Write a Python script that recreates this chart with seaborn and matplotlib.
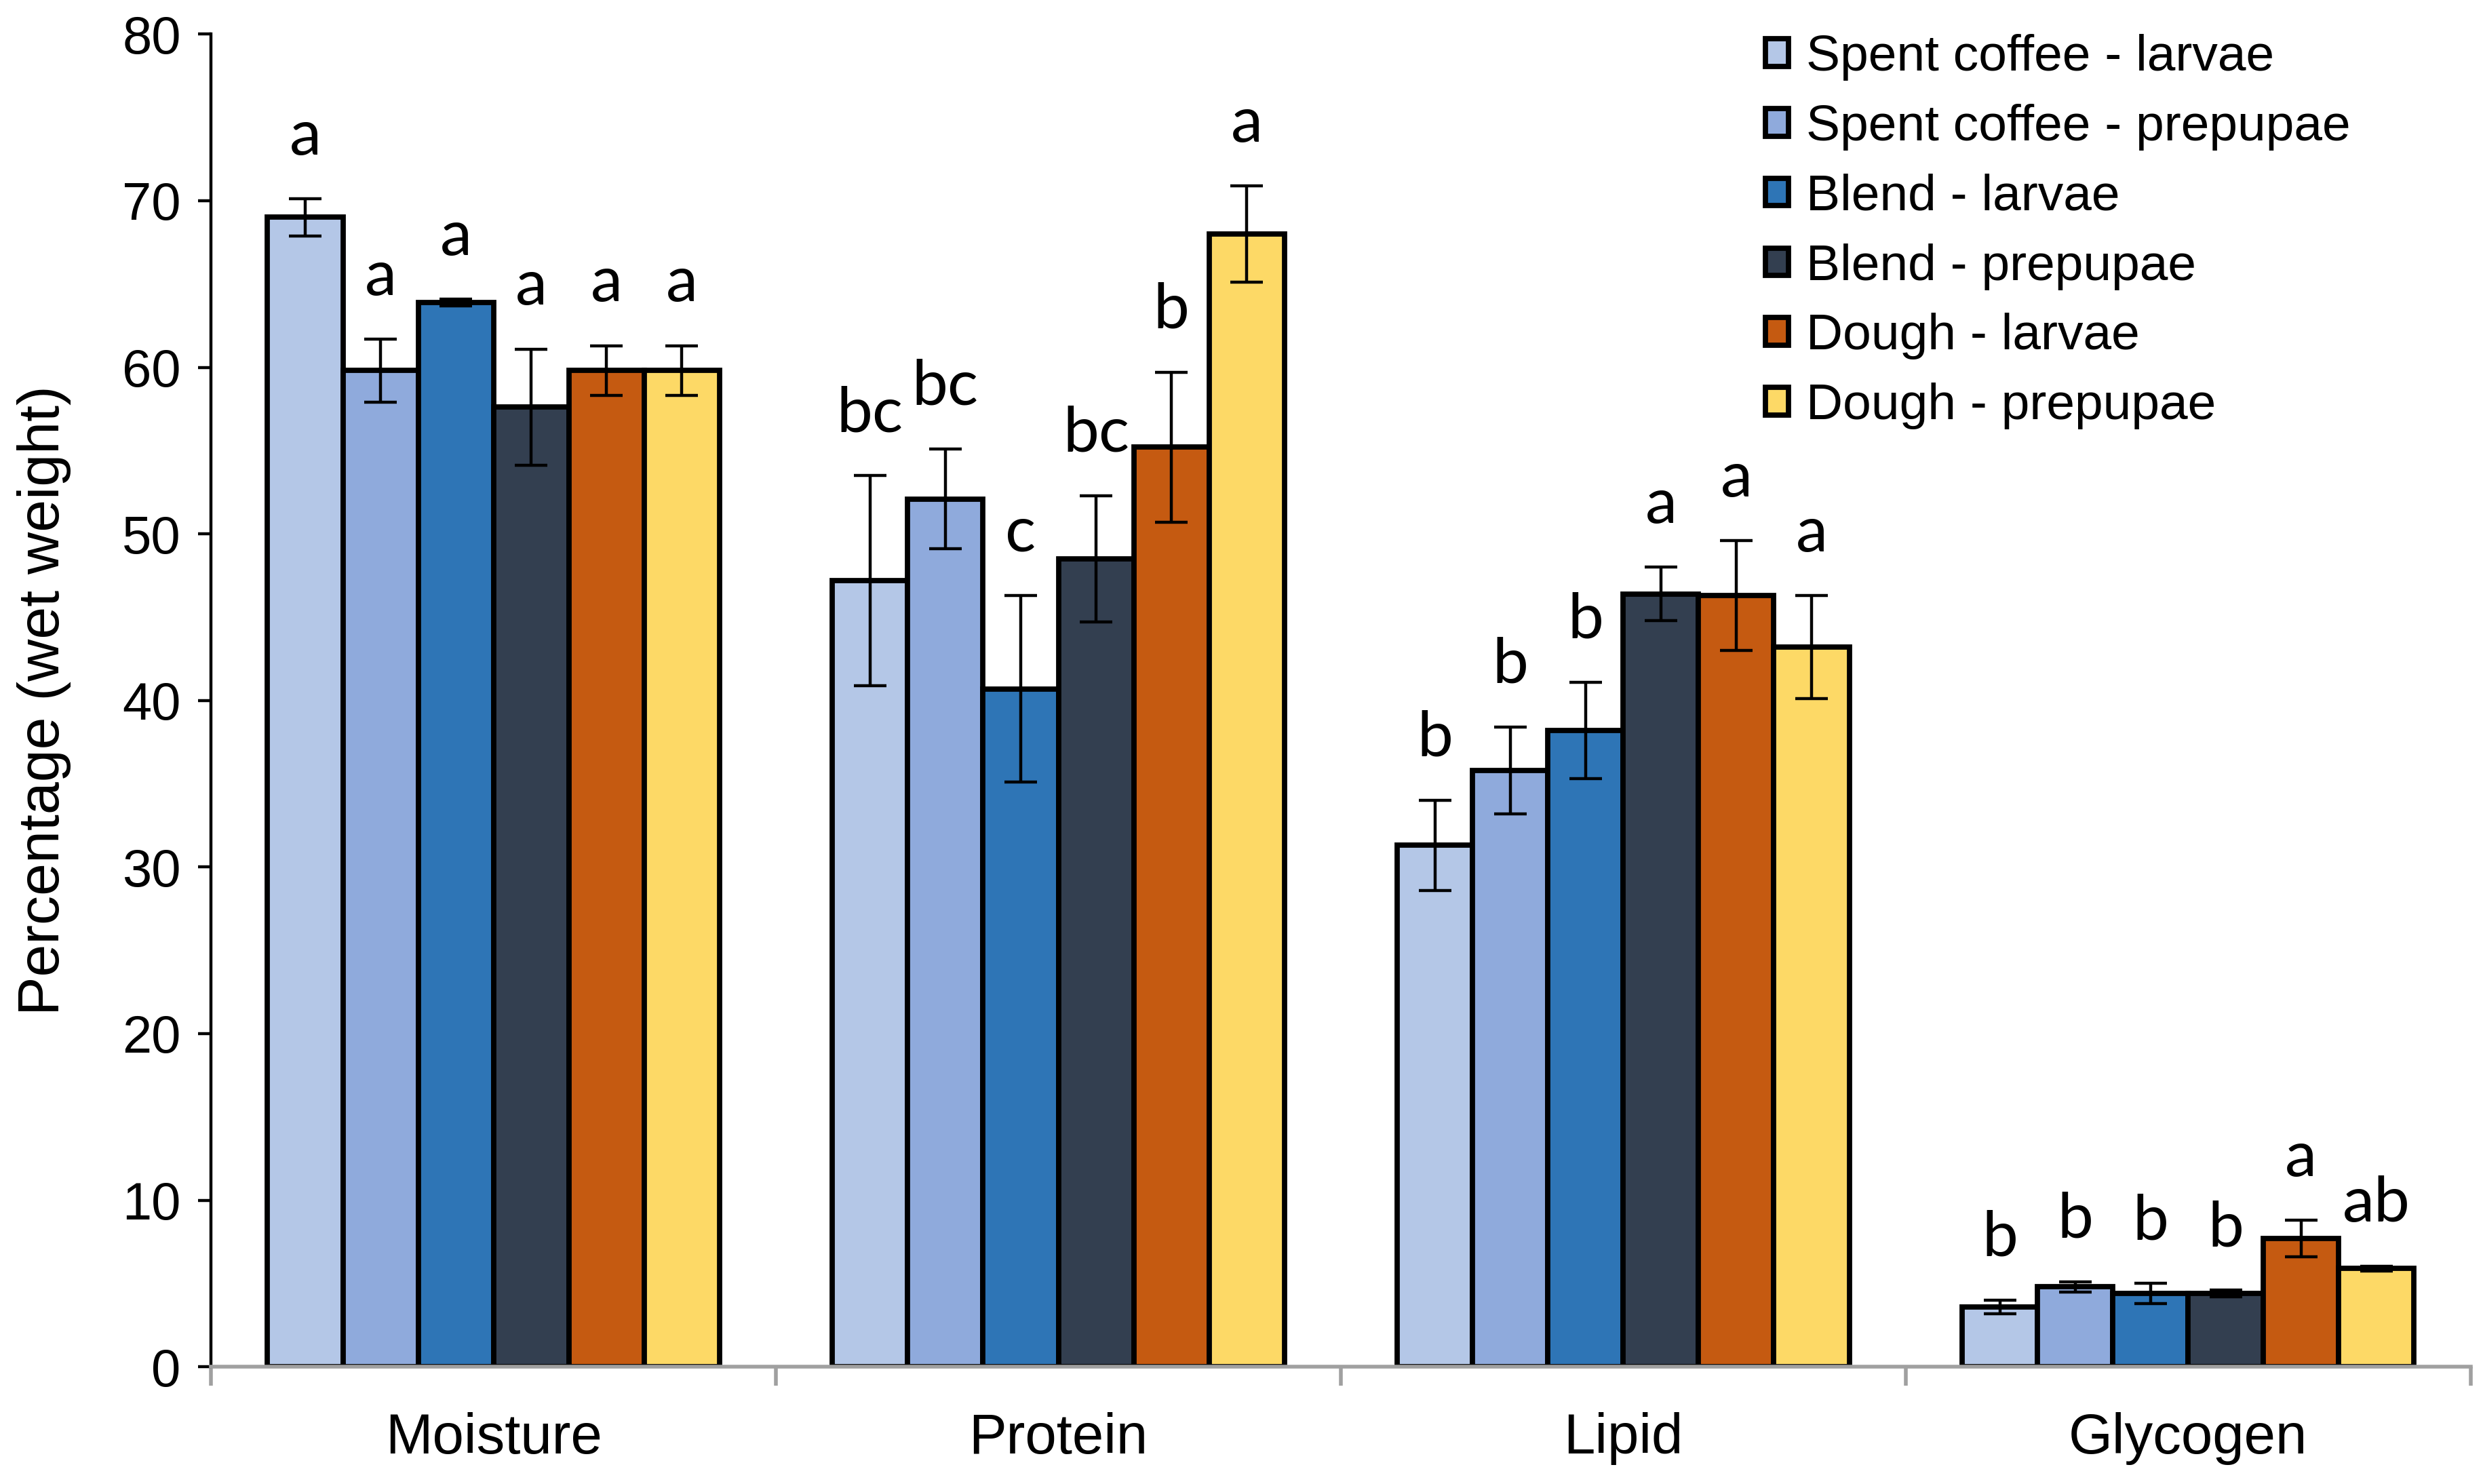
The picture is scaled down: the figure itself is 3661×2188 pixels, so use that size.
import matplotlib
matplotlib.use("Agg")
import matplotlib.pyplot as plt
import pandas as pd
import seaborn as sns

# Data
components = ["Moisture", "Protein", "Lipid", "Glycogen"]
groups = ["Spent coffee - larvae", "Spent coffee - prepupae", "Blend - larvae",
          "Blend - prepupae", "Dough - larvae", "Dough - prepupae"]
colors = ["#B4C7E7", "#8FAADC", "#2E75B6", "#333F50", "#C55A11", "#FDD966"]

# one list per group: Moisture, Protein, Lipid, Glycogen
sc_larvae = [69.0, 47.2, 31.3, 3.6]
sc_prepupae = [59.8, 52.1, 35.8, 4.8]
blend_larvae = [63.9, 40.7, 38.2, 4.4]
blend_prepupae = [57.6, 48.5, 46.4, 4.4]
dough_larvae = [59.8, 55.2, 46.3, 7.7]
dough_prepupae = [59.8, 68.0, 43.2, 5.9]

sc_larvae_err = [1.1, 6.3, 2.7, 0.4]
sc_prepupae_err = [1.9, 3.0, 2.6, 0.3]
blend_larvae_err = [0.2, 5.6, 2.9, 0.6]
blend_prepupae_err = [3.5, 3.8, 1.6, 0.2]
dough_larvae_err = [1.5, 4.5, 3.3, 1.1]
dough_prepupae_err = [1.5, 2.9, 3.1, 0.15]

sc_larvae_lbl = ["a", "bc", "b", "b"]
sc_prepupae_lbl = ["a", "bc", "b", "b"]
blend_larvae_lbl = ["a", "c", "b", "b"]
blend_prepupae_lbl = ["a", "bc", "a", "b"]
dough_larvae_lbl = ["a", "b", "a", "a"]
dough_prepupae_lbl = ["a", "a", "a", "ab"]

means = [sc_larvae, sc_prepupae, blend_larvae, blend_prepupae, dough_larvae, dough_prepupae]
errs = [sc_larvae_err, sc_prepupae_err, blend_larvae_err, blend_prepupae_err,
        dough_larvae_err, dough_prepupae_err]
lbls = [sc_larvae_lbl, sc_prepupae_lbl, blend_larvae_lbl, blend_prepupae_lbl,
        dough_larvae_lbl, dough_prepupae_lbl]

rows = []
for g, vals, ee, ll in zip(groups, means, errs, lbls):
    for c, v, e, l in zip(components, vals, ee, ll):
        rows.append({"component": c, "group": g, "value": v, "err": e, "letter": l})
df = pd.DataFrame(rows)

sns.set_style("ticks")
plt.rcParams["font.family"] = ["Liberation Sans", "DejaVu Sans"]
plt.rcParams["text.color"] = "black"
plt.rcParams["xtick.color"] = "black"
plt.rcParams["ytick.color"] = "black"
plt.rcParams["axes.labelcolor"] = "black"

fig = plt.figure(figsize=(18.305, 10.94), dpi=200)
ax = fig.add_axes([0.085, 0.079, 0.91, 0.898])

sns.barplot(data=df, x="component", y="value", hue="group", order=components,
            hue_order=groups, palette=colors, saturation=1, width=0.8,
            edgecolor="black", linewidth=2.8, errorbar=None, ax=ax, zorder=2)

# error bars and significance letters
for g, cont in zip(groups, ax.containers):
    sub = df[df["group"] == g].set_index("component").loc[components]
    xs = [b.get_x() + b.get_width() / 2 for b in cont]
    ax.errorbar(xs, sub["value"], yerr=sub["err"], fmt="none", ecolor="black",
                elinewidth=1.6, capsize=8.5, capthick=1.6, zorder=3)
    for x, v, e, l in zip(xs, sub["value"], sub["err"], sub["letter"]):
        ax.text(x, v + e + 2.0, l, ha="center", va="bottom", fontsize=34,
                family=["Lato", "DejaVu Sans"], color="black")

ax.set_ylim(0, 80)
ax.set_yticks(range(0, 81, 10))
ax.set_xlim(-0.5, 3.5)
ax.set_xticks(range(len(components)))
ax.set_xticklabels(components, fontsize=30)
ax.set_xticks([-0.5, 0.5, 1.5, 2.5, 3.5], minor=True)
ax.tick_params(axis="x", which="major", length=0, pad=24)
ax.tick_params(axis="x", which="minor", length=10, width=2, color="#A0A0A0", direction="out")
ax.tick_params(axis="y", labelsize=28, length=7, width=1.6, pad=9, color="black")

ax.set_xlabel("")
ax.set_ylabel("Percentage (wet weight)", fontsize=31)
ax.yaxis.set_label_coords(-0.062, 0.5)

sns.despine(ax=ax)
ax.spines["left"].set_linewidth(1.6)
ax.spines["left"].set_color("black")
ax.spines["bottom"].set_linewidth(2)
ax.spines["bottom"].set_color("#A0A0A0")

handles, labels = ax.get_legend_handles_labels()
ax.legend(handles, labels, loc="upper left", bbox_to_anchor=(0.688, 1.0),
          frameon=False, fontsize=27, handlelength=0.45, handleheight=0.45,
          handletextpad=0.35, labelspacing=0.45, borderpad=0, borderaxespad=0)

fig.savefig("out.png", dpi=200)
